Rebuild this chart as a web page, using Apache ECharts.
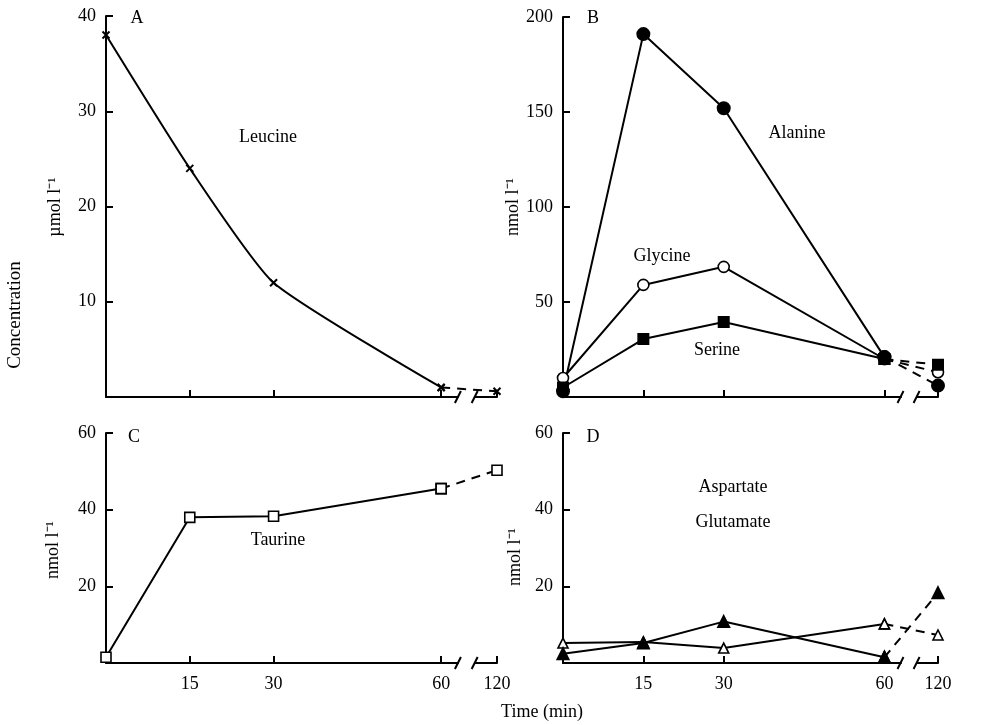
<!DOCTYPE html>
<html>
<head>
<meta charset="utf-8">
<script src="https://cdn.jsdelivr.net/npm/echarts@6/dist/echarts.min.js"></script>
<style>
html, body { margin: 0; padding: 0; background: #fff; }
#main { width: 999px; height: 725px; }
</style>
</head>
<body>
<div id="main"></div>
<script>
// sampling times (min)
var times = [0, 15, 30, 60, 120];
// panel A (umol/l)
var leucine = [38, 24, 12, 1, 0.6];
// panel B (nmol/l)
var alanine = [3, 191, 152, 21, 6];
var glycine = [10, 59, 68.5, 20, 13];
var serine = [5, 30.5, 39.5, 20, 17];
// panel C
var taurine = [1.5, 38, 38.3, 45.5, 50.3];
// panel D
var aspartate = [5.2, 5.5, 3.9, 10.2, 7.3];
var glutamate = [2.4, 5.2, 10.8, 1.5, 18.3];

var xTicks = [0, 15, 30, 60, 120];
var xLabels = [15, 30, 60, 120];
var yTicksA = [0, 10, 20, 30, 40];
var yTicksB = [0, 50, 100, 150, 200];
var yTicksCD = [0, 20, 40, 60];
var axisBreak = { start: 63, end: 116, gap: 3 };

var FONT = 'Liberation Serif';

var mainDiv = document.getElementById('main');
var myChart = echarts.init(mainDiv);

function pts(vals, from, to) {
    var out = [];
    for (var i = from; i < to; i++) out.push([times[i], vals[i]]);
    return out;
}

function xAxis(idx, showLabels) {
    return {
        type: 'value',
        gridIndex: idx,
        min: 0,
        max: 120,
        breaks: [axisBreak],
        breakArea: { show: false },
        axisLine: { lineStyle: { color: '#000', width: 2 } },
        axisTick: { inside: true, length: 7, customValues: xTicks, lineStyle: { color: '#000', width: 2 } },
        axisLabel: {
            show: showLabels,
            customValues: xLabels,
            color: '#000',
            fontFamily: FONT,
            fontSize: 18,
            margin: 12
        },
        splitLine: { show: false }
    };
}

function yAxis(idx, ticks) {
    return {
        type: 'value',
        gridIndex: idx,
        min: ticks[0],
        max: ticks[ticks.length - 1],
        axisLine: { show: true, lineStyle: { color: '#000', width: 2 } },
        axisTick: { show: true, inside: true, length: 7, customValues: ticks, lineStyle: { color: '#000', width: 2 } },
        axisLabel: {
            customValues: ticks.slice(1),
            color: '#000',
            fontFamily: FONT,
            fontSize: 18,
            margin: 10
        },
        splitLine: { show: false }
    };
}

// one measured series = solid part (0-60 min) + dashed part across the break
function addSeries(list, idx, vals, symbol, size, filled, smooth) {
    var style = {
        color: filled ? '#000' : '#fff',
        borderColor: '#000',
        borderWidth: filled ? 2 : 1.6
    };
    list.push({
        type: 'line',
        xAxisIndex: idx,
        yAxisIndex: idx,
        data: pts(vals, 0, 4),
        smooth: smooth ? 0.18 : false,
        symbol: symbol,
        symbolSize: size,
        itemStyle: style,
        lineStyle: { color: '#000', width: 2 },
        z: 3
    });
    list.push({
        type: 'line',
        xAxisIndex: idx,
        yAxisIndex: idx,
        data: pts(vals, 3, 5),
        symbol: symbol,
        symbolSize: size,
        itemStyle: style,
        lineStyle: { color: '#000', width: 2, type: [9, 7] },
        z: 3
    });
}

var crossSym = 'path://M0,0L10,10M10,0L0,10';

var series = [];
addSeries(series, 0, leucine, crossSym, 7, true, true);
addSeries(series, 1, alanine, 'circle', 12, true, false);
addSeries(series, 1, glycine, 'circle', 11, false, false);
addSeries(series, 1, serine, 'rect', 10, true, false);
addSeries(series, 2, taurine, 'rect', 10, false, false);
addSeries(series, 3, aspartate, 'triangle', 10, false, false);
addSeries(series, 3, glutamate, 'triangle', 11, true, false);

function txt(x, y, s, opts) {
    opts = opts || {};
    return {
        type: 'text',
        x: x,
        y: y,
        rotation: opts.rot || 0,
        silent: true,
        style: {
            text: s,
            fill: '#000',
            font: (opts.size || 18) + 'px "' + FONT + '"',
            align: 'center',
            verticalAlign: 'middle'
        }
    };
}

var R = Math.PI / 2;

var texts = [
    txt(15, 315, 'Concentration', { rot: R, size: 19 }),
    txt(55, 207, 'µmol l⁻¹', { rot: R }),
    txt(513, 207, 'nmol l⁻¹', { rot: R }),
    txt(53, 550, 'nmol l⁻¹', { rot: R }),
    txt(515, 557, 'nmol l⁻¹', { rot: R }),
    txt(542, 712, 'Time (min)'),
    txt(137, 18, 'A'),
    txt(593, 18, 'B'),
    txt(134, 437, 'C'),
    txt(593, 437, 'D'),
    txt(268, 137, 'Leucine'),
    txt(797, 133, 'Alanine'),
    txt(662, 256, 'Glycine'),
    txt(717, 350, 'Serine'),
    txt(278, 540, 'Taurine'),
    txt(733, 487, 'Aspartate'),
    txt(733, 522, 'Glutamate')
];

var option = {
    backgroundColor: '#fff',
    animation: false,
    grid: [
        { left: 106, top: 16, width: 391, height: 381 },
        { left: 563, top: 17, width: 375, height: 380 },
        { left: 106, top: 433, width: 391, height: 230 },
        { left: 563, top: 433, width: 375, height: 230 }
    ],
    xAxis: [xAxis(0, false), xAxis(1, false), xAxis(2, true), xAxis(3, true)],
    yAxis: [yAxis(0, yTicksA), yAxis(1, yTicksB), yAxis(2, yTicksCD), yAxis(3, yTicksCD)],
    graphic: texts,
    series: series
};
myChart.setOption(option);

// slanted break marks on each time axis, placed through the axis scale
var marks = [];
for (var g = 0; g < 4; g++) {
    [axisBreak.start, axisBreak.end].forEach(function (v) {
        var p = myChart.convertToPixel({ xAxisIndex: g, yAxisIndex: g }, [v, 0]);
        marks.push({
            type: 'line',
            silent: true,
            shape: { x1: p[0] - 3, y1: p[1] + 6, x2: p[0] + 3, y2: p[1] - 6 },
            style: { stroke: '#000', lineWidth: 2 }
        });
    });
}
myChart.setOption({ graphic: texts.concat(marks) });
</script>
</body>
</html>
